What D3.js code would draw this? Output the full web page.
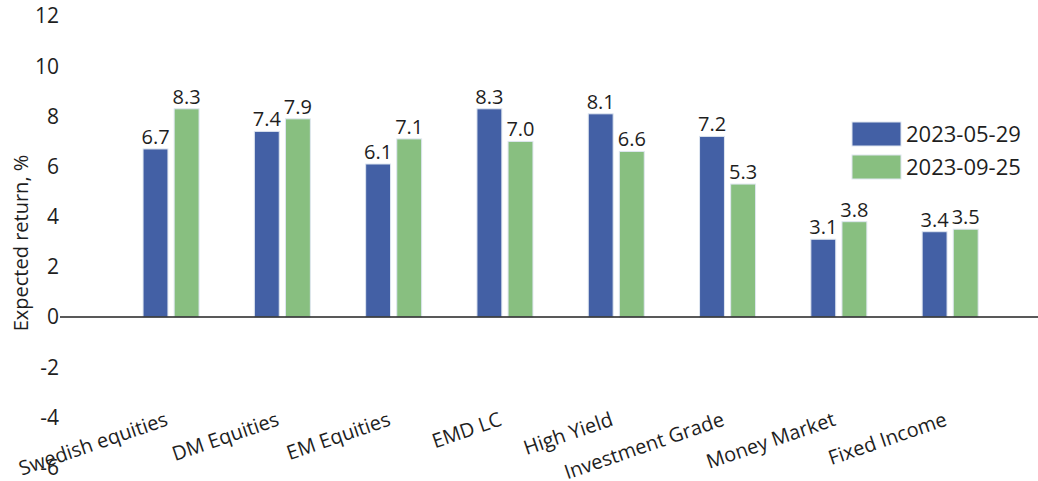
<!DOCTYPE html>
<html>
<head>
<meta charset="utf-8">
<script src="https://cdn.jsdelivr.net/npm/d3@7"></script>
<style>
  body { margin: 0; background: #fff; }
  svg { display: block; font-family: "Open Sans", Lato, sans-serif; }
  .tick-label { fill: #1e1e1e; font-size: 21px; }
  .val { fill: #1e1e1e; font-size: 20px; }
</style>
</head>
<body>
<div id="chart"></div>
<script>
let categories = ['Swedish equities', 'DM Equities', 'EM Equities', 'EMD LC', 'High Yield', 'Investment Grade', 'Money Market', 'Fixed Income']
let seriesNames = ['2023-05-29', '2023-09-25']
let may = [6.7, 7.4, 6.1, 8.3, 8.1, 7.2, 3.1, 3.4]
let sep = [8.3, 7.9, 7.1, 7.0, 6.6, 5.3, 3.8, 3.5]
let yTicks = [-6, -4, -2, 0, 2, 4, 6, 8, 10, 12]
let colors = ['#4360a5', '#88bf80']

let width = 1038, height = 481
let svg = d3.select('#chart').append('svg').attr('width', width).attr('height', height)

let y = d3.scaleLinear().domain([-6, 12]).range([467.5, 16])
let x = d3.scaleBand().domain(categories).range([115.4, 1005.8]).padding(0)
let xSub = d3.scaleBand().domain(seriesNames).range([0, 56]).paddingInner(0.2)

// y tick labels, no axis line
svg.append('g').selectAll('text')
  .data(yTicks)
  .enter().append('text')
  .attr('class', 'tick-label')
  .attr('x', 59)
  .attr('y', d => y(d))
  .attr('dy', '0.35em')
  .attr('text-anchor', 'end')
  .text(d => d)

// axis title
svg.append('text')
  .attr('transform', 'translate(28,243) rotate(-90)')
  .attr('text-anchor', 'middle')
  .style('font-size', '20px')
  .style('fill', '#1e1e1e')
  .text('Expected return, %')

let rows = categories.map((c, i) => ({ cat: c, vals: [may[i], sep[i]] }))

let groups = svg.append('g').selectAll('g')
  .data(rows)
  .enter().append('g')
  .attr('transform', d => `translate(${x(d.cat) + x.bandwidth() / 2 - 28},0)`)

groups.selectAll('rect')
  .data(d => d.vals.map((v, j) => ({ name: seriesNames[j], v: v, j: j })))
  .enter().append('rect')
  .attr('x', d => xSub(d.name))
  .attr('width', xSub.bandwidth())
  .attr('y', d => y(Math.max(0, d.v)))
  .attr('height', d => Math.abs(y(d.v) - y(0)))
  .attr('fill', d => colors[d.j])
  .attr('stroke', '#dfe6f0')
  .attr('stroke-width', 1)

groups.selectAll('text')
  .data(d => d.vals.map((v, j) => ({ name: seriesNames[j], v: v })))
  .enter().append('text')
  .attr('class', 'val')
  .attr('x', d => xSub(d.name) + xSub.bandwidth() / 2)
  .attr('y', d => y(d.v) - 5)
  .attr('text-anchor', 'middle')
  .text(d => d.v.toFixed(1))

// zero line
svg.append('line')
  .attr('x1', 60).attr('x2', width)
  .attr('y1', y(0)).attr('y2', y(0))
  .attr('stroke', '#222').attr('stroke-width', 1.5)

// category labels, rotated
svg.append('g').selectAll('text')
  .data(categories)
  .enter().append('text')
  .attr('class', 'tick-label')
  .attr('transform', d => `translate(${x(d) + x.bandwidth() / 2 - 2},425) rotate(-19)`)
  .attr('text-anchor', 'end')
  .style('font-size', '20px')
  .text(d => d)

// legend
let legend = svg.append('g').attr('transform', 'translate(852,122)')
let li = legend.selectAll('g')
  .data(seriesNames)
  .enter().append('g')
  .attr('transform', (d, i) => `translate(0,${i * 33})`)
li.append('rect')
  .attr('width', 49).attr('height', 24)
  .attr('fill', (d, i) => colors[i])
  .attr('stroke', '#dfe6f0')
li.append('text')
  .attr('x', 54).attr('y', 12).attr('dy', '0.36em')
  .style('font-size', '22px').style('fill', '#1e1e1e')
  .text(d => d)
</script>
</body>
</html>
